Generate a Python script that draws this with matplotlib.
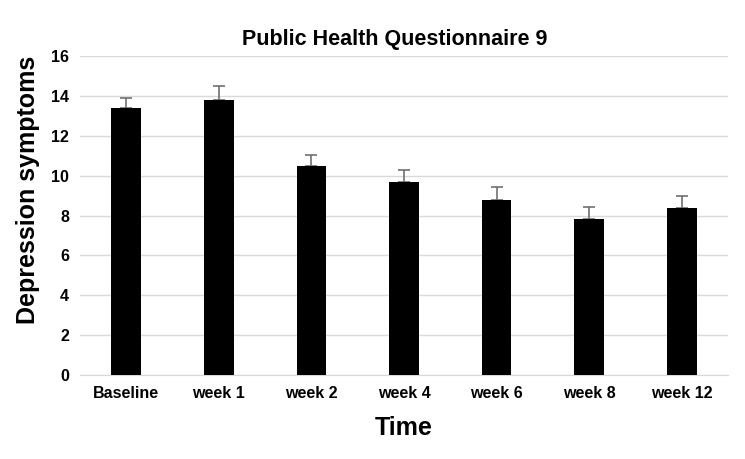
import matplotlib.pyplot as plt
import numpy as np

plt.rcParams['font.family'] = ['Liberation Sans', 'DejaVu Sans']

# data
timepoints = ['Baseline', 'week 1', 'week 2', 'week 4', 'week 6', 'week 8', 'week 12']
phq9_mean = [13.4, 13.8, 10.5, 9.7, 8.8, 7.8, 8.4]
phq9_err = [0.5, 0.7, 0.55, 0.57, 0.65, 0.62, 0.6]

fig = plt.figure(figsize=(7.45, 4.59), dpi=100)
ax = fig.add_axes([80/745, 1 - 375/459, 648/745, 319/459])

x = np.arange(len(timepoints))
ax.bar(x, phq9_mean, width=0.32, color='black', zorder=3)
# error bars go behind the bars so only the upper half shows
ax.errorbar(x, phq9_mean, yerr=[np.zeros(len(phq9_err)), phq9_err], fmt='none',
            ecolor='#707070', elinewidth=1.2, capsize=4, capthick=1.2, zorder=2)

ax.set_xlim(-0.5, len(timepoints) - 0.5)
ax.set_ylim(0, 16)
ax.set_yticks(range(0, 17, 2))
ax.set_xticks(x)
ax.set_xticklabels(timepoints, fontsize=11.5, fontweight='bold')
for lbl in ax.get_yticklabels():
    lbl.set_fontsize(11.5)
    lbl.set_fontweight('bold')
ax.tick_params(length=0, pad=8)
ax.grid(axis='y', color='#d9d9d9', linewidth=1, zorder=0)
for s in ['top', 'right', 'left']:
    ax.spines[s].set_visible(False)
ax.spines['bottom'].set_color('#d9d9d9')

ax.set_title('Public Health Questionnaire 9', fontsize=15.5, fontweight='bold', pad=8, x=0.486)
ax.set_ylabel('Depression symptoms', fontsize=18, fontweight='bold')
ax.yaxis.set_label_coords(-0.061, 0.58)
ax.set_xlabel('Time', fontsize=18, fontweight='bold', labelpad=11)

fig.savefig('out.png', dpi=100)
